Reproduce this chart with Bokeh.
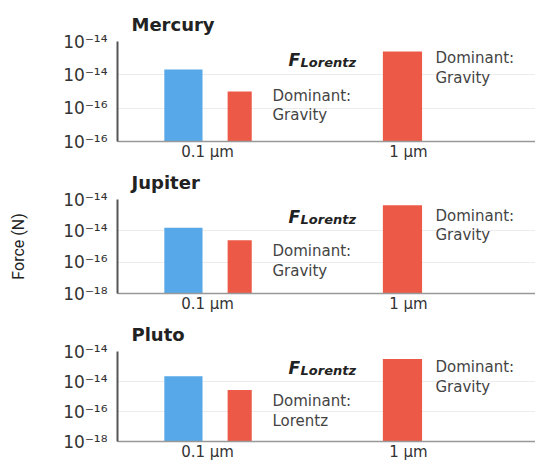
from bokeh.plotting import figure
from bokeh.layouts import column
from bokeh.models import Range1d, FixedTicker
from bokeh.core.properties import value
from bokeh.embed import file_html
from bokeh.resources import INLINE
import numpy as np

# ---- data ----
planets = ["Mercury", "Jupiter", "Pluto"]
sizes = ["0.1 μm", "1 μm"]
blue_force_01 = [2.1e-14, 1.6e-14, 2.2e-14]      # blue bar at 0.1 μm
red_force_01 = [1.0e-15, 2.5e-15, 2.7e-15]       # red bar at 0.1 μm
red_force_1 = [2.5e-13, 4.3e-13, 3.2e-13]        # red bar at 1 μm
tick_exponents = [-18, -16, -14, -12]
tick_labels = [
    ["10⁻¹⁶", "10⁻¹⁶", "10⁻¹⁴", "10⁻¹⁴"],
    ["10⁻¹⁸", "10⁻¹⁶", "10⁻¹⁴", "10⁻¹⁴"],
    ["10⁻¹⁸", "10⁻¹⁶", "10⁻¹⁴", "10⁻¹⁴"],
]
left_notes = ["Dominant:\nGravity", "Dominant:\nGravity", "Dominant:\nLorentz"]
right_notes = ["Dominant:\nGravity", "Dominant:\nGravity", "Dominant:\nGravity"]

BLUE = "#56a8e8"
RED = "#ec5a47"
FONT = "DejaVu Sans"

heights = [163, 152, 148]
borders_top = [41, 35, 32]
borders_bottom = [22, 21, 12]

figs = []
for i, name in enumerate(planets):
    p = figure(width=535, height=heights[i], output_backend="svg", toolbar_location=None,
               x_range=Range1d(-0.448, 1.632),
               y_range=Range1d(tick_exponents[0], tick_exponents[-1]),
               min_border_left=117, min_border_right=0, min_border_top=borders_top[i],
               min_border_bottom=borders_bottom[i], title=name)
    p.outline_line_color = None
    p.background_fill_color = "white"
    p.border_fill_color = "white"

    p.title.text_font = FONT
    p.title.text_font_size = "18px"
    p.title.text_font_style = "bold"
    p.title.text_color = "#222222"
    p.title.align = "left"
    p.title.offset = 14
    p.title.standoff = 13

    base = tick_exponents[0]
    p.vbar(x=[-0.12], top=[np.log10(blue_force_01[i])], bottom=base,
           width=0.19, fill_color=BLUE, line_color=None)
    p.vbar(x=[0.16], top=[np.log10(red_force_01[i])], bottom=base,
           width=0.12, fill_color=RED, line_color=None)
    p.vbar(x=[1 - 0.03], top=[np.log10(red_force_1[i])], bottom=base,
           width=0.195, fill_color=RED, line_color=None)

    # annotations
    p.text(x=[0.403], y=[-13.12], text=["F"], text_font=value(FONT), text_font_size="17px",
           text_font_style="bold italic", text_color="#222222", text_baseline="middle")
    p.text(x=[0.463], y=[-13.28], text=["Lorentz"], text_font=value(FONT), text_font_size="13px",
           text_font_style="bold italic", text_color="#222222", text_baseline="middle")
    p.text(x=[0.323], y=[-14.7], text=[left_notes[i]], text_font=value(FONT), text_font_size="15px",
           text_color="#444444", text_baseline="top", text_line_height=1.1)
    p.text(x=[1.134], y=[-12.45], text=[right_notes[i]], text_font=value(FONT), text_font_size="15px",
           text_color="#444444", text_baseline="top", text_line_height=1.1)

    # axes
    p.yaxis.ticker = FixedTicker(ticks=tick_exponents)
    p.yaxis.major_label_overrides = {t: lab for t, lab in zip(tick_exponents, tick_labels[i])}
    p.yaxis.major_label_text_font = FONT
    p.yaxis.major_label_text_font_size = "17px"
    p.yaxis.major_label_text_color = "#333333"
    p.yaxis.major_label_standoff = 10
    p.yaxis.axis_line_color = "#555555"
    p.yaxis.axis_line_width = 2
    p.yaxis.major_tick_line_color = None
    p.yaxis.minor_tick_line_color = None
    p.yaxis.major_tick_out = 0

    p.xaxis.ticker = FixedTicker(ticks=[0, 1])
    p.xaxis.major_label_overrides = {0: sizes[0], 1: sizes[1]}
    p.xaxis.major_label_text_font = FONT
    p.xaxis.major_label_text_font_size = "15px"
    p.xaxis.major_label_text_color = "#333333"
    p.xaxis.major_label_standoff = 1
    p.xaxis.axis_line_color = "#999999"
    p.xaxis.axis_line_width = 1.5
    p.xaxis.major_tick_line_color = None
    p.xaxis.minor_tick_line_color = None
    p.xaxis.major_tick_out = 0

    p.xgrid.grid_line_color = None
    p.ygrid.ticker = FixedTicker(ticks=tick_exponents)
    p.ygrid.grid_line_color = "#ececec"

    if i == 1:
        p.yaxis.axis_label = "Force (N)"
        p.yaxis.axis_label_text_font = "Roboto"
        p.yaxis.axis_label_text_font_size = "16px"
        p.yaxis.axis_label_text_font_style = "normal"
        p.yaxis.axis_label_text_color = "#222222"
        p.yaxis.axis_label_standoff = 32
    figs.append(p)

layout = column(*figs, spacing=0)
open("out.html", "w").write(file_html(layout, INLINE))
